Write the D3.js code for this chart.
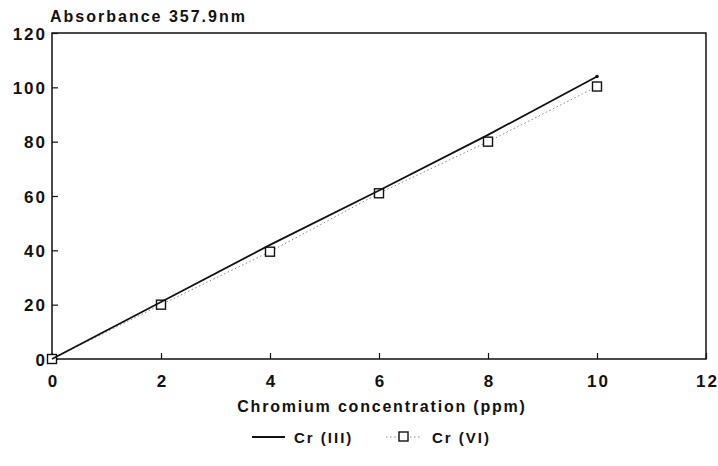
<!DOCTYPE html>
<html>
<head>
<meta charset="utf-8">
<script src="https://cdn.jsdelivr.net/npm/d3@7"></script>
<style>
  body { margin: 0; background: #fff; }
  text { font-family: "Liberation Sans", Arial, sans-serif; font-weight: bold; fill: #111; }
</style>
</head>
<body>
<svg id="chart"></svg>
<script>
// data
var conc = [0, 2, 4, 6, 8, 10];
var cr3 = [0, 21, 42, 62, 82.5, 104];
var cr6 = [0, 20, 39.5, 61, 80, 100.3];
var xTicks = [0, 2, 4, 6, 8, 10, 12];
var yTicks = [0, 20, 40, 60, 80, 100, 120];

var W = 718, H = 466;
var margin = {top: 33, right: 12, bottom: 107, left: 52},
    width = W - margin.left - margin.right,
    height = H - margin.top - margin.bottom;

var svg = d3.select("#chart")
    .attr("width", W)
    .attr("height", H)
    .append("g")
    .attr("transform", "translate(" + margin.left + "," + margin.top + ")");

var x = d3.scaleLinear().domain([0, 12]).range([0, width]);
var y = d3.scaleLinear().domain([0, 120]).range([height, 0]);

// frame
svg.append("rect")
    .attr("width", width)
    .attr("height", height)
    .attr("fill", "none")
    .attr("stroke", "#111")
    .attr("stroke-width", 1.5);

// axes, ticks pointing inward
var xAxis = svg.append("g")
    .attr("transform", "translate(0," + height + ")")
    .call(d3.axisBottom(x).tickValues(xTicks).tickSize(-6).tickPadding(16).tickFormat(d3.format("d")));
var yAxis = svg.append("g")
    .call(d3.axisLeft(y).tickValues(yTicks).tickSize(-6).tickPadding(7).tickFormat(d3.format("d")));

[xAxis, yAxis].forEach(function(a) {
    a.select(".domain").remove();
    a.selectAll("line").attr("stroke", "#111").attr("stroke-width", 1.2);
    a.selectAll("text")
        .style("font-size", "17px")
        .style("font-family", "Liberation Sans, Arial, sans-serif")
        .style("font-weight", "bold")
        .style("letter-spacing", "2px")
        .attr("fill", "#111");
});
yAxis.selectAll("text").attr("dy", "0.36em").attr("dx", "2");
xAxis.selectAll("text").attr("dx", "1");

var pts3 = conc.map(function(c, i) { return [c, cr3[i]]; });
var pts6 = conc.map(function(c, i) { return [c, cr6[i]]; });

var line = d3.line()
    .x(function(d) { return x(d[0]); })
    .y(function(d) { return y(d[1]); });

// Cr (VI): dotted grey line with open squares
svg.append("path")
    .datum(pts6)
    .attr("d", line)
    .attr("fill", "none")
    .attr("stroke", "#888")
    .attr("stroke-width", 1)
    .attr("stroke-dasharray", "1.5,2.5");

svg.selectAll(".sq")
    .data(pts6)
    .enter()
    .append("rect")
    .attr("class", "sq")
    .attr("x", function(d) { return x(d[0]) - 4.5; })
    .attr("y", function(d) { return y(d[1]) - 4.5; })
    .attr("width", 9)
    .attr("height", 9)
    .attr("fill", "#fff")
    .attr("stroke", "#111")
    .attr("stroke-width", 1.4);

// Cr (III): solid line
svg.append("path")
    .datum(pts3)
    .attr("d", line)
    .attr("fill", "none")
    .attr("stroke", "#111")
    .attr("stroke-width", 1.8);

svg.append("circle")
    .attr("cx", x(conc[conc.length - 1]))
    .attr("cy", y(cr3[cr3.length - 1]))
    .attr("r", 1.8)
    .attr("fill", "#111");

// titles
svg.append("text")
    .attr("x", -2)
    .attr("y", -11)
    .style("font-size", "16px")
    .style("letter-spacing", "2px")
    .text("Absorbance 357.9nm");

svg.append("text")
    .attr("text-anchor", "middle")
    .attr("x", width / 2 + 3)
    .attr("y", height + 53)
    .style("font-size", "16px")
    .style("letter-spacing", "1.8px")
    .text("Chromium concentration (ppm)");

// legend
var leg = d3.select("#chart").append("g").attr("transform", "translate(0,437)");
leg.append("line")
    .attr("x1", 252).attr("x2", 285)
    .attr("y1", 0).attr("y2", 0)
    .attr("stroke", "#111").attr("stroke-width", 1.8);
leg.append("text")
    .attr("x", 294).attr("y", 6)
    .style("font-size", "15px")
    .style("letter-spacing", "2px")
    .text("Cr (III)");
leg.append("line")
    .attr("x1", 386).attr("x2", 420)
    .attr("y1", 0).attr("y2", 0)
    .attr("stroke", "#888").attr("stroke-width", 1)
    .attr("stroke-dasharray", "1.5,2.5");
leg.append("rect")
    .attr("x", 399).attr("y", -5)
    .attr("width", 9).attr("height", 9)
    .attr("fill", "#fff")
    .attr("stroke", "#111").attr("stroke-width", 1.4);
leg.append("text")
    .attr("x", 432).attr("y", 6)
    .style("font-size", "15px")
    .style("letter-spacing", "2px")
    .text("Cr (VI)");
</script>
</body>
</html>
